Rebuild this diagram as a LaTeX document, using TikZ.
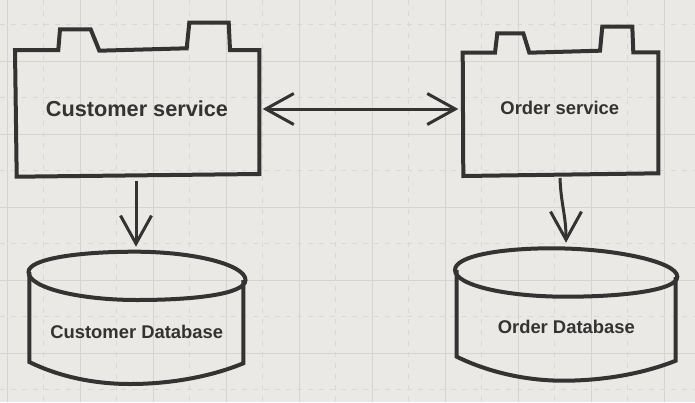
\documentclass[tikz,border=0pt]{standalone}
\usepackage{fontspec}
\setmainfont{Liberation Sans}
\usetikzlibrary{arrows.meta}
\definecolor{paper}{RGB}{235,233,230}
\definecolor{gridsolid}{RGB}{214,212,209}
\definecolor{griddash}{RGB}{218,216,213}
\definecolor{ink}{RGB}{51,51,51}
\begin{document}
\begin{tikzpicture}[x=1pt,y=-1pt,
  outline/.style={draw=ink, line width=4pt, line join=miter},
  area/.style={draw=none, inner sep=0pt, outer sep=0pt},
  lbl/.style={font=\bfseries\fontsize{18.4}{22}\selectfont, text=ink, inner sep=0pt},
  biglbl/.style={lbl, font=\bfseries\fontsize{21.7}{26}\selectfont},
  link/.style={draw=ink, line width=3pt},
  barb/.tip={Straight Barb[length=28pt,width=31pt]}]

% paper and grid
\fill[paper] (0,0) rectangle (695,402);
\useasboundingbox (0,0) rectangle (695,402);
\foreach \k in {0,...,9} \draw[gridsolid, line width=1pt] (7+73*\k,0) -- (7+73*\k,402);
\foreach \k in {0,...,8} \draw[griddash, line width=1pt, dash pattern=on 5pt off 6pt] (43.5+73*\k,0) -- (43.5+73*\k,402);
\foreach \k in {1,...,5} \draw[gridsolid, line width=1pt] (0,-12+73*\k) -- (695,-12+73*\k);
\foreach \k in {0,...,5} \draw[griddash, line width=1pt, dash pattern=on 5pt off 6pt] (0,24+73*\k) -- (695,24+73*\k);

% component areas (used as anchors for the connectors)
\node[area, minimum width=243pt, minimum height=126pt] (cs) at (137.5,113) {};
\node[area, minimum width=195pt, minimum height=122.5pt] (os) at (560.5,113.75) {};
\node[area, minimum width=217pt, minimum height=132.3pt] (cdb) at (137,317.85) {};
\node[area, minimum width=222pt, minimum height=132.4pt] (odb) at (566,314.5) {};

% Customer service component
\draw[outline] (15,50) -- (58.3,50) -- (60,29.3) -- (90.7,29.3) -- (99.3,50.7)
  -- (186.7,48.3) -- (189.3,22.7) -- (228.7,22.7) -- (230,50) -- (259.3,50)
  -- (259.3,174) -- (16.7,176.7) -- cycle;

% Order service component
\draw[outline] (462.7,52.7) -- (495,52.7) -- (497.3,33.3) -- (523.3,33.3) -- (529.3,52.7)
  -- (600,50.7) -- (602.3,26.7) -- (632.3,26.7) -- (633.3,52.3) -- (658.3,52.3)
  -- (658.3,173.3) -- (463.3,176) -- cycle;

% Customer Database cylinder
\draw[outline] (28.5,272) .. controls (28.5,259) and (77,251.7) .. (135,251.7)
  .. controls (195,251.7) and (245.5,265) .. (245.5,280)
  .. controls (245.5,294) and (195,300) .. (137,300)
  .. controls (80,300) and (28.5,288) .. cycle;
\draw[outline] (29.3,272) -- (29.3,362)
  .. controls (60,377) and (95,384) .. (130,384)
  .. controls (175,384) and (215,375) .. (243.3,363.3) -- (243.3,280);

% Order Database cylinder
\draw[outline] (455,270) .. controls (455,256) and (500,248.3) .. (552,248.3)
  .. controls (615,248.3) and (677.3,262) .. (677.3,276.7)
  .. controls (677.3,290) and (625,296.7) .. (566,296.7)
  .. controls (505,296.7) and (455,285) .. cycle;
\draw[outline] (456.7,270) -- (456.7,356.7)
  .. controls (490,373) and (528,380.7) .. (563,380.7)
  .. controls (605,380.7) and (645,373) .. (675.7,360.7) -- (675.7,277);

% labels
\node[biglbl] (csl) at (137,109) {Customer service};
\node[lbl] (osl) at (559.8,108) {Order service};
\node[lbl] (cdbl) at (136.7,332) {Customer Database};
\node[lbl] (odbl) at (566.3,326.7) {Order Database};

% connectors
\draw[link, -{barb}] ([xshift=-1.5pt,yshift=-5pt]cs.south) -- ([xshift=-1pt,yshift=5pt]cdb.north);
\draw[link, {barb}-{barb}] ([xshift=3.7pt,yshift=4pt]cs.east) -- ([xshift=-4.7pt,yshift=4.75pt]os.west);
\draw[link, -{barb}] ([xshift=-0.5pt,yshift=-3pt]os.south)
  .. controls (561,205) and (566,215) .. ([yshift=5.6pt]odb.north);
\end{tikzpicture}
\end{document}
